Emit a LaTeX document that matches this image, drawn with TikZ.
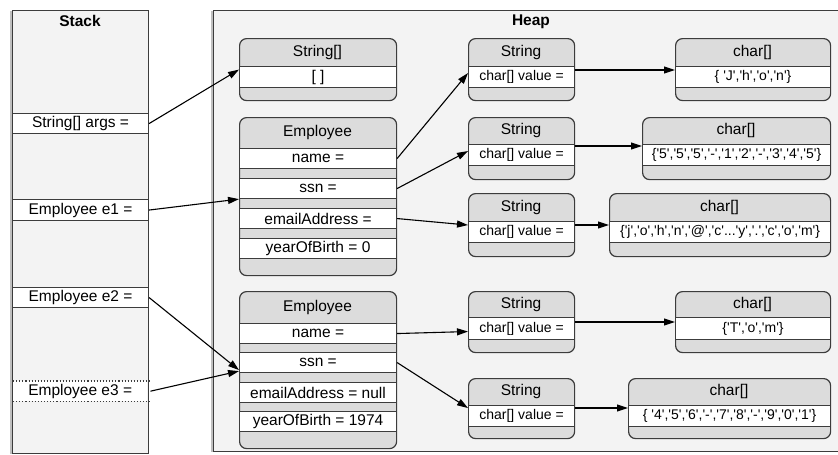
\documentclass[tikz,border=0pt]{standalone}
\usepackage{fontspec}
\setmainfont{Liberation Sans}
\usetikzlibrary{arrows.meta,shadows}
\definecolor{ln}{HTML}{3C3C3C}
\definecolor{panel}{HTML}{F3F3F3}
\definecolor{hdr}{HTML}{DCDCDC}
\newcommand\sm{\fontsize{14}{16}\selectfont}
\newcommand\qc[1]{\textquotesingle#1\textquotesingle}
\tikzset{
  panelbox/.style={draw=ln, line width=1.2pt, fill=panel, anchor=north west, inner sep=0pt,
    drop shadow={shadow xshift=-2.5pt, shadow yshift=0pt, opacity=.25, fill=black}},
  objbox/.style={draw=ln, line width=1.2pt, fill=hdr, rounded corners=7pt, anchor=north west, inner sep=0pt},
  rowbox/.style={draw=ln, line width=1.1pt, fill=white, anchor=north west, inner sep=0pt,
    font=\fontsize{15.5}{18}\selectfont},
  slotbox/.style={fill=white, anchor=north west, inner sep=0pt, font=\fontsize{15.5}{18}\selectfont},
  dotline/.style={draw=ln, line width=1.1pt, dotted},
  txt/.style={inner sep=0pt, font=\fontsize{15.5}{18}\selectfont},
  ttl/.style={inner sep=0pt, font=\fontsize{15.5}{18}\selectfont\bfseries},
  arr/.style={draw=black, line width=1.1pt, -{Triangle[length=11pt,width=7pt]}},
}
\newcommand\mkobj[7]{%
  \node[objbox, minimum width=#4pt, minimum height=#5pt] (#1) at (#2,#3) {};
  \node[txt] (#1t) at ({#2+#4/2},{#3+#6/2}) {#7};}
\newcommand\mkrow[6]{%
  \node[rowbox, minimum width=#4pt, minimum height=#5pt] (#1) at (#2,#3) {#6};}
\begin{document}
\begin{tikzpicture}[x=1pt,y=-1pt]
\clip (0,0) rectangle (838,455);
\fill[white] (0,0) rectangle (838,455);
% panels
\node[panelbox, minimum width=136pt, minimum height=443pt] (stack) at (12,10) {};
\node[panelbox, minimum width=640pt, minimum height=441pt] (heap) at (213,10) {};
\node[ttl] (stackt) at (80,21) {Stack};
\node[ttl] (heapt) at (531,22) {Heap};
% stack slots
\mkrow{args}{12}{113}{136}{20}{String[] args =}
\mkrow{e1}{12}{199}{136}{21}{Employee e1 =}
\mkrow{e2}{12}{287}{136}{20}{Employee e2 =}
\node[slotbox, minimum width=134pt, minimum height=20pt] (e3) at (13,381) {Employee e3 =};
\draw[dotline] (e3.north west) -- ([xshift=3pt]e3.north east);
\draw[dotline] (e3.south west) -- ([xshift=3pt]e3.south east);
% String[]
\mkobj{sa}{239}{38}{157}{62}{28}{String[]}
\mkrow{sav}{239}{66}{157}{21}{[ ]}
% Employee 1
\mkobj{ea}{239}{117}{157}{158}{31}{Employee}
\mkrow{eaname}{239}{148}{157}{20}{name =}
\mkrow{eassn}{239}{178}{157}{20}{ssn =}
\mkrow{eamail}{239}{208}{157}{20}{emailAddress =}
\mkrow{eayear}{239}{238}{157}{20}{yearOfBirth = 0}
% Employee 2
\mkobj{eb}{239}{291}{157}{157}{32}{Employee}
\mkrow{ebname}{239}{323}{157}{20}{name =}
\mkrow{ebssn}{239}{352}{157}{20}{ssn =}
\mkrow{ebmail}{239}{382}{157}{20}{emailAddress = null}
\mkrow{ebyear}{239}{411}{157}{20}{yearOfBirth = 1974}
% Strings
\mkobj{sb}{468}{38}{106}{62}{28}{String}
\mkrow{sbv}{468}{66}{106}{21}{\sm char[] value =}
\mkobj{sc}{468}{117}{106}{62}{27}{String}
\mkrow{scv}{468}{144}{106}{21}{\sm char[] value =}
\mkobj{sd}{468}{193}{106}{63}{28}{String}
\mkrow{sdv}{468}{221}{106}{21}{\sm char[] value =}
\mkobj{se}{468}{291}{106}{61}{26}{String}
\mkrow{sev}{468}{317}{106}{22}{\sm char[] value =}
\mkobj{sf}{468}{378}{106}{60}{27}{String}
\mkrow{sfv}{468}{405}{106}{21}{\sm char[] value =}
% char arrays
\mkobj{ca}{675}{38}{155}{62}{28}{char[]}
\mkrow{cav}{675}{66}{155}{21}{\sm \{ \qc{J},\qc{h},\qc{o},\qc{n}\}}
\mkobj{cb}{642}{117}{188}{62}{27}{char[]}
\mkrow{cbv}{642}{144}{188}{21}{\sm \{\qc{5},\qc{5},\qc{5},\qc{-},\qc{1},\qc{2},\qc{-},\qc{3},\qc{4},\qc{5}\}}
\mkobj{cc}{609}{193}{221}{63}{28}{char[]}
\mkrow{ccv}{609}{221}{221}{21}{\sm \{\qc{j},\qc{o},\qc{h},\qc{n},\qc{@},\qc{c}...\qc{y},\qc{.},\qc{c},\qc{o},\qc{m}\}}
\mkobj{cd}{675}{291}{155}{61}{26}{char[]}
\mkrow{cdv}{675}{317}{155}{22}{\sm \{\qc{T},\qc{o},\qc{m}\}}
\mkobj{ce}{628}{378}{202}{60}{27}{char[]}
\mkrow{cev}{628}{405}{202}{21}{\sm \{ \qc{4},\qc{5},\qc{6},\qc{-},\qc{7},\qc{8},\qc{-},\qc{9},\qc{0},\qc{1}\}}
% stack references
\draw[arr] (args.east) -- (sa.west);
\draw[arr] (e1.east) -- (eassn.south west);
\draw[arr] (e2.east) -- ([yshift=3pt]ebssn.south west);
\draw[arr] ([xshift=3pt]e3.east) -- ([yshift=2pt]ebssn.south west);
% field references
\draw[arr] (eaname.east) -- ([yshift=4pt]sbv.west);
\draw[arr] (eassn.east) -- ([yshift=4pt]scv.west);
\draw[arr] (eamail.east) -- ([yshift=7pt]sdv.west);
\draw[arr] (ebname.east) -- ([yshift=-3pt]sev.west);
\draw[arr] (ebssn.east) -- ([yshift=8pt]sfv.west);
% value references
\coordinate (pa) at ([yshift=-4pt]sbv.north east);
\coordinate (pb) at ([yshift=-2pt]scv.north east);
\coordinate (pc) at ([yshift=-4pt]sdv.north east);
\coordinate (pd) at ([yshift=-5pt]sev.north east);
\coordinate (pe) at ([yshift=-3pt]sfv.north east);
\draw[arr] (pa) -- (pa -| ca.west);
\draw[arr] (pb) -- (pb -| cb.west);
\draw[arr] (pc) -- (pc -| cc.west);
\draw[arr] (pd) -- (pd -| cd.west);
\draw[arr] (pe) -- (pe -| ce.west);
\end{tikzpicture}
\end{document}
